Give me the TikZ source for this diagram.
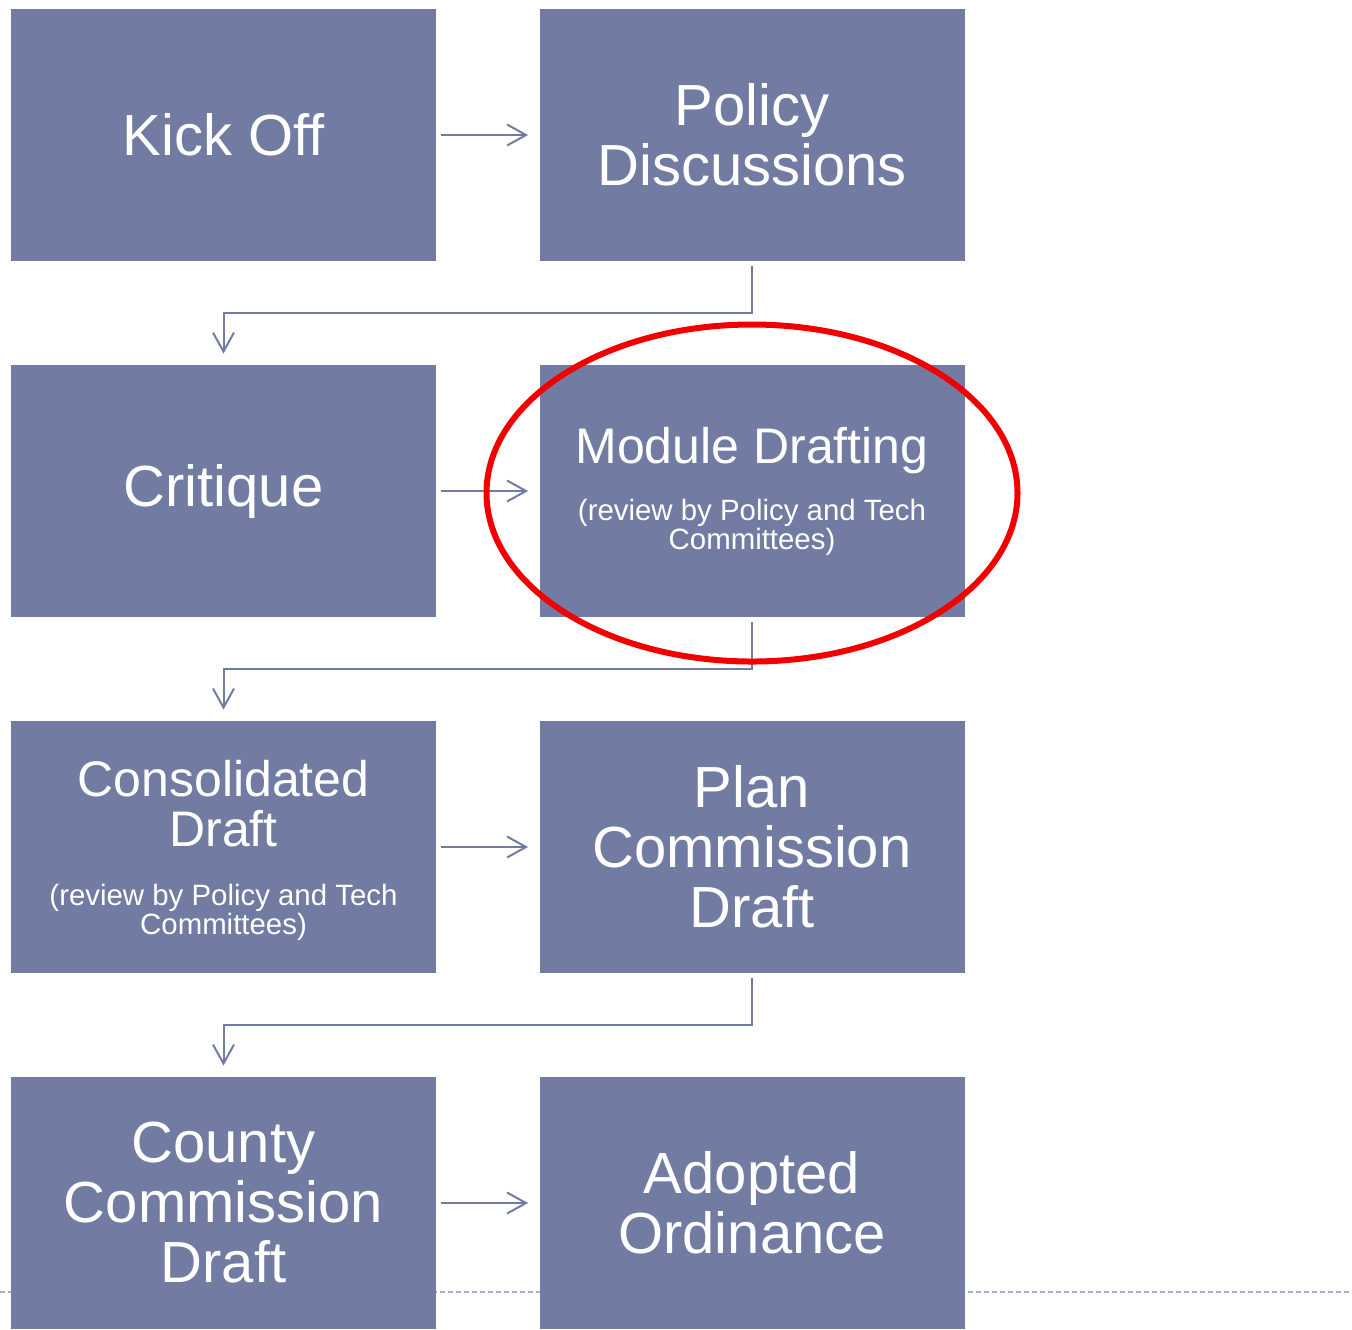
\documentclass[tikz,border=0pt]{standalone}
\usepackage{fontspec}
\setmainfont{Liberation Sans}
\usetikzlibrary{arrows.meta}
\definecolor{d_slate}{HTML}{727CA3}
\definecolor{l_slate}{HTML}{A3B5CA}
\definecolor{d_red}{HTML}{F20000}

\tikzset{
  stage/.style={fill=d_slate, text=white, minimum width=212.5pt, minimum height=126pt,
    inner sep=0pt, align=center, font=\fontsize{29}{30}\selectfont},
  stagenote/.style={stage, font=\fontsize{25}{25}\selectfont},
  flow/.style={draw=d_slate, line width=1pt, shorten <=2.5pt, shorten >=5.5pt,
    -{Straight Barb[length=9.5pt,width=10.5pt]}},
}
\newcommand{\notetext}{\fontsize{14.7}{15}\selectfont}

\begin{document}
\begin{tikzpicture}[x=0.5pt, y=-0.5pt]
\useasboundingbox (0,0) rectangle (1352,1329);

\draw[l_slate, line width=0.6pt, dash pattern=on 2.5pt off 1.5pt] (0,1292) -- (1352,1292);

\node[stage] (kick) at (223.5,135) {Kick Off};
\node[stage] (policy) at (752,135) {Policy\\Discussions};

\node[stage] (critique) at (223.5,491) {Critique};
\node[stagenote] (module) at (752,491) {Module Drafting\\[3.5pt]
  {\notetext (review by Policy and Tech}\\[-10.5pt]{\notetext Committees)}};

\node[stagenote] (consol) at (223.5,847) {\rule{0pt}{21.3pt}Consolidated\\Draft\\[4.5pt]
  {\notetext (review by Policy and Tech}\\[-10.5pt]{\notetext Committees)}};
\node[stage] (plan) at (752,847) {Plan\\Commission\\Draft};

\node[stage] (county) at (223.5,1203) {County\\Commission\\Draft};
\node[stage] (adopted) at (752,1203) {Adopted\\Ordinance};

\draw[flow] (kick) -- (policy);
\draw[flow] (policy.south) -- ++(0,52) -| (critique.north);
\draw[flow] (critique) -- (module);
\draw[flow] (module.south) -- ++(0,52) -| (consol.north);
\draw[flow] (consol) -- (plan);
\draw[flow] (plan.south) -- ++(0,52) -| (county.north);
\draw[flow] (county) -- (adopted);

% highlight
\draw[d_red, line width=3pt] (752,493) ellipse [x radius=132.75pt, y radius=84.25pt];

\end{tikzpicture}
\end{document}
